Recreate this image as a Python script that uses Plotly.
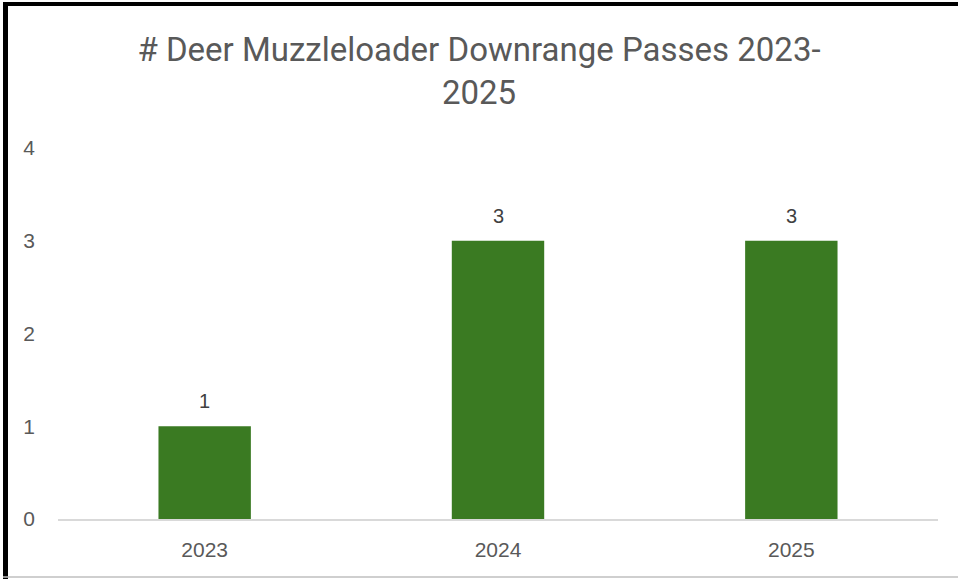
import plotly.graph_objects as go

years = ["2023", "2024", "2025"]
passes = [1, 3, 3]
y_ticks = [0, 1, 2, 3, 4]

W, H = 958, 579
ml, mr, mt, mb = 58, 20, 148, 60
pw, ph = W - ml - mr, H - mt - mb

def px_x(x):
    return (x - ml) / pw

def px_y(y):
    return (H - mb - y) / ph

tick_font = dict(family="Liberation Sans, Arial", size=21, color="#595959")

fig = go.Figure()
fig.add_trace(go.Bar(
    x=years, y=passes, width=0.315,
    marker=dict(color="#3a7a22", line=dict(width=0)),
    hoverinfo="skip",
))

for i, v in enumerate(passes):
    fig.add_annotation(x=i, y=v, xref="x", yref="y", text=str(v), showarrow=False,
                       yshift=25,
                       font=dict(family="Liberation Sans, Arial", size=20, color="#404040"))

fig.update_layout(
    width=W, height=H,
    margin=dict(l=ml, r=mr, t=mt, b=mb),
    paper_bgcolor="white", plot_bgcolor="white",
    showlegend=False,
    title=dict(text="# Deer Muzzleloader Downrange Passes 2023-<br>2025",
               x=0.5, xanchor="center", xref="container",
               y=1 - 61 / H, yanchor="middle",
               font=dict(family="Roboto", size=33, color="#595959")),
    xaxis=dict(type="category", range=[-0.5, len(years) - 0.5], showgrid=False,
               showline=True, linecolor="#d9d9d9",
               linewidth=2, ticks="", ticklabelstandoff=11, tickfont=tick_font),
    yaxis=dict(range=[0, 4], tickvals=y_ticks, showgrid=False, zeroline=False,
               showline=False, ticks="", ticklabelstandoff=22, tickfont=tick_font),
    shapes=[
        dict(type="line", xref="paper", yref="paper", x0=px_x(3), x1=px_x(958),
             y0=px_y(4), y1=px_y(4), line=dict(color="black", width=4)),
        dict(type="line", xref="paper", yref="paper", x0=px_x(5.5), x1=px_x(5.5),
             y0=px_y(2), y1=px_y(579), line=dict(color="black", width=5)),
        dict(type="line", xref="paper", yref="paper", x0=px_x(3), x1=px_x(958),
             y0=px_y(577), y1=px_y(577), line=dict(color="#bfbfbf", width=1.5)),
    ],
)

fig.write_html("out.html", config={"displayModeBar": False},
               post_script="document.body.style.margin='0';")
